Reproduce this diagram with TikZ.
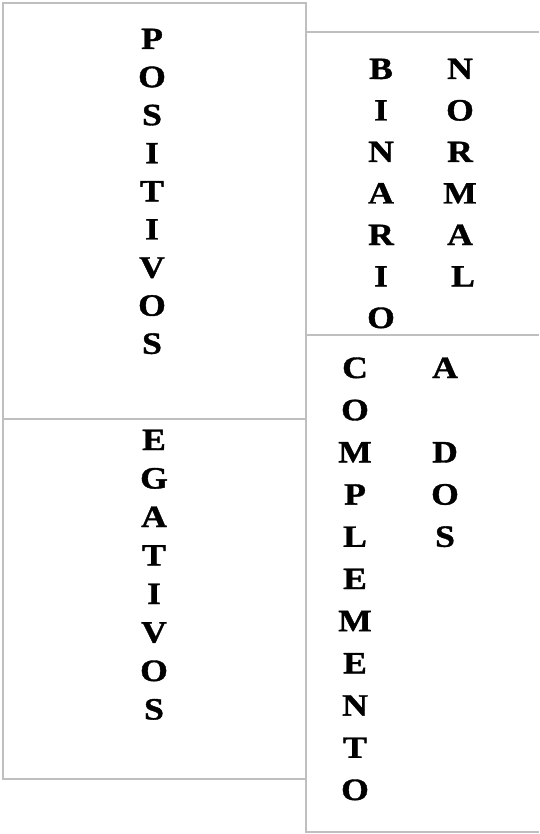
\documentclass[tikz,border=0pt]{standalone}
\usepackage{fontspec}
\setmainfont{Liberation Serif}
\newfontfamily\widebold[FakeStretch=1.15,FakeBold=1.2]{Liberation Serif Bold}
\begin{document}
\begin{tikzpicture}[x=1pt,y=-1pt,
  frame/.style={draw=black!25,line width=2pt},
  letter/.style={inner sep=0pt,anchor=base,font=\widebold\fontsize{31}{31}\selectfont}]
\useasboundingbox (0,0) rectangle (539,834);
% frames
\draw[frame] (3,3) rectangle (306,779);
\draw[frame] (3,419) -- (306,419);
\draw[frame] (306,779) -- (306,832) -- (539,832);
\draw[frame] (306,32) -- (539,32);
\draw[frame] (306,335) -- (539,335);
% POSITIVOS
\foreach \c [count=\i from 0] in {P,O,S,I,T,I,V,O,S}
  \node[letter] (pos\i) at (152,{39+38.1*\i+10}) {\c};
% EGATIVOS
\foreach \c [count=\i from 0] in {E,G,A,T,I,V,O,S}
  \node[letter] (neg\i) at (154,{440+38.5*\i+10}) {\c};
% BINARIO
\foreach \c [count=\i from 0] in {B,I,N,A,R,I,O}
  \node[letter] (bin\i) at (381,{69+41.5*\i+10}) {\c};
% NORMAL
\foreach \c/\xx [count=\i from 0] in {N/460,O/460,R/460,M/460,A/460,L/463}
  \node[letter] (nor\i) at (\xx,{69+41.5*\i+10}) {\c};
% COMPLEMENTO
\foreach \c [count=\i from 0] in {C,O,M,P,L,E,M,E,N,T,O}
  \node[letter] (com\i) at (355,{368+42.2*\i+10}) {\c};
% A DOS
\foreach \c/\r in {A/0,D/2,O/3,S/4}
  \node[letter] (dos\r) at (445,{368+42.2*\r+10}) {\c};
\end{tikzpicture}
\end{document}
